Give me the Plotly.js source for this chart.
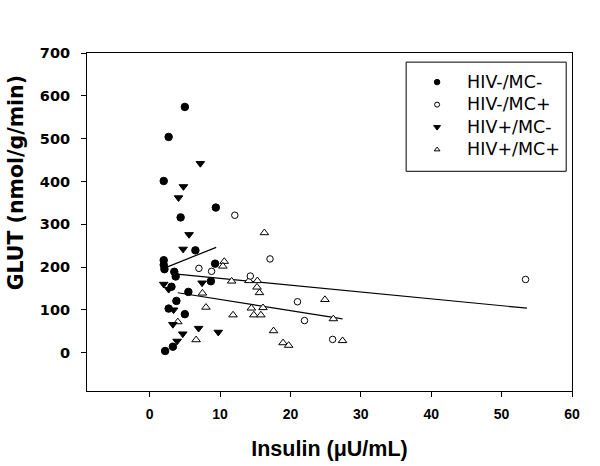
<!DOCTYPE html>
<html>
<head>
<meta charset="utf-8">
<script src="https://cdn.plot.ly/plotly-3.0.1.min.js"></script>
<style>html,body{margin:0;padding:0;background:#fff}#chart{width:600px;height:466px}</style>
</head>
<body>
<div id="chart"></div>
<script>
// HIV-/MC- (filled circles)
var negNegX = [5.0, 2.7, 2.0, 9.4, 4.4, 6.5, 9.3, 2.0, 2.0, 2.1, 3.5, 3.7, 3.1, 8.7, 5.5, 3.8, 2.7, 5.0, 3.3, 2.2];
var negNegY = [574, 504, 401, 339, 316, 239, 208, 216, 205, 195, 189, 178, 154, 167, 142, 121, 103, 90, 14, 4];
// HIV-/MC+ (open circles)
var negPosX = [12.1, 17.1, 7.0, 8.8, 14.3, 21.0, 22.0, 26.0, 53.4];
var negPosY = [321, 219, 197, 190, 179, 119, 75, 31, 171];
// HIV+/MC- (filled down triangles)
var posNegX = [7.2, 4.8, 4.1, 5.6, 4.75, 2.0, 2.7, 7.45, 3.4, 3.3, 4.7, 6.95, 9.75, 3.9];
var posNegY = [442, 388, 362, 276, 242, 160, 148, 163, 100, 66, 44, 57, 48, 27];
// HIV+/MC+ (open up triangles)
var posPosX = [16.3, 10.6, 10.4, 11.65, 14.1, 15.3, 15.25, 15.6, 7.5, 24.9, 8.0, 14.45, 16.1, 11.85, 14.8, 15.8, 26.1, 4.0, 17.6, 6.6, 18.95, 19.75, 27.4];
var posPosY = [280, 213, 202, 167, 168, 168, 153, 140, 139, 124, 106, 104, 105, 88, 88, 88, 79, 72, 51, 30, 23, 17, 28];
// regression lines (endpoints)
var fitNegNegX = [2.0, 9.45], fitNegNegY = [197, 246];
var fitNegPosX = [3.5, 53.6], fitNegPosY = [184, 104];
var fitPosPosX = [4.0, 27.4], fitPosPosY = [140, 79];

var seriesNames = ['HIV-/MC-', 'HIV-/MC+', 'HIV+/MC-', 'HIV+/MC+'];
var xTicks = [0, 10, 20, 30, 40, 50, 60];
var yTicks = [0, 100, 200, 300, 400, 500, 600, 700];
var xTitle = 'Insulin (μU/mL)';
var yTitle = 'GLUT (nmol/g/min)';

var ARIAL = 'Liberation Sans, Arial, sans-serif';
var WIDE = 'DejaVu Sans, Verdana, sans-serif';
var blackLine = {color: '#000', width: 1.2};

function pts(x, y, sym, size, fill) {
  return {x: x, y: y, type: 'scatter', mode: 'markers', showlegend: false, hoverinfo: 'skip',
    marker: {symbol: sym, size: size, color: fill, line: {color: '#000', width: 1}}};
}
function fit(x, y) {
  return {x: x, y: y, type: 'scatter', mode: 'lines', showlegend: false, hoverinfo: 'skip', line: blackLine};
}
function leg(name, sym, size, fill) {
  return {x: [null], y: [null], type: 'scatter', mode: 'markers',
    name: '<span style="font-size:17.5px">' + name + '</span>',
    marker: {symbol: sym, size: size, color: fill, line: {color: '#000', width: 1}}};
}

var data = [
  fit(fitNegNegX, fitNegNegY), fit(fitNegPosX, fitNegPosY), fit(fitPosPosX, fitPosPosY),
  pts(posPosX, posPosY, 'triangle-up', 7.5, '#fff'),
  pts(negPosX, negPosY, 'circle', 6.5, '#fff'),
  pts(posNegX, posNegY, 'triangle-down', 7.5, '#000'),
  pts(negNegX, negNegY, 'circle', 7.5, '#000'),
  leg(seriesNames[0], 'circle', 5.5, '#000'),
  leg(seriesNames[1], 'circle', 5, '#fff'),
  leg(seriesNames[2], 'triangle-down', 6, '#000'),
  leg(seriesNames[3], 'triangle-up', 5, '#fff')
];

var layout = {
  width: 600, height: 466,
  margin: {l: 87, r: 28, t: 53, b: 75},
  paper_bgcolor: '#fff', plot_bgcolor: '#fff',
  font: {family: ARIAL, color: '#000'},
  showlegend: true,
  legend: {x: 0.66, y: 0.962, xanchor: 'left', yanchor: 'top', bgcolor: 'rgba(0,0,0,0)',
    borderwidth: 0, font: {family: WIDE, size: 15, color: '#000'}, itemwidth: 50, tracegroupgap: 0},
  shapes: [{type: 'rect', xref: 'paper', yref: 'paper', x0: 0.658, x1: 0.988, y0: 0.650, y1: 0.973,
    line: {color: '#000', width: 1}, fillcolor: 'rgba(0,0,0,0)'}],
  annotations: [{text: yTitle, xref: 'paper', yref: 'paper', x: -0.146, y: 0.615, xanchor: 'center',
    yanchor: 'middle', textangle: -90, showarrow: false,
    font: {family: WIDE, size: 20.5, weight: 'bold', color: '#000'}}],
  xaxis: {range: [-8.9, 60], tickvals: xTicks, ticktext: xTicks.map(String), ticks: 'outside', ticklen: 5,
    tickcolor: '#000', showline: true, linecolor: '#000', linewidth: 1, mirror: true, showgrid: false,
    zeroline: false, tickfont: {family: ARIAL, size: 14, weight: 'bold'}, ticklabelstandoff: 5,
    title: {text: xTitle, font: {family: ARIAL, size: 21.5, weight: 'bold'}, standoff: 20}},
  yaxis: {range: [-89.5, 700], tickvals: yTicks, ticktext: yTicks.map(String), ticks: 'outside', ticklen: 5,
    tickcolor: '#000', showline: true, linecolor: '#000', linewidth: 1, mirror: true, showgrid: false,
    zeroline: false, tickfont: {family: WIDE, size: 14.5, weight: 'bold'}, ticklabelstandoff: 8}
};

Plotly.newPlot('chart', data, layout, {staticPlot: true});
</script>
</body>
</html>
